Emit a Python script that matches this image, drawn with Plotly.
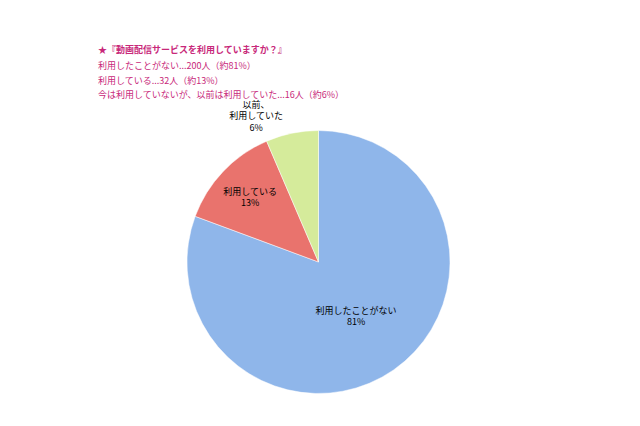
import plotly.graph_objects as go

labels = ["利用したことがない", "利用している", "以前、<br>利用していた"]
values = [200, 32, 16]
percents = ["81%", "13%", "6%"]
colors = ["#8fb6ea", "#e9736d", "#d5eb9b"]
header = ["★『動画配信サービスを利用していますか？』",
          "利用したことがない...200人（約81%）",
          "利用している...32人（約13%）",
          "今は利用していないが、以前は利用していた...16人（約6%）"]

W, H = 640, 426
fig = go.Figure(go.Pie(
    labels=labels, values=values, sort=False, direction="clockwise", rotation=0,
    text=[f"{l}<br>{p}" for l, p in zip(labels, percents)],
    textinfo="text", textposition=["inside", "inside", "outside"],
    insidetextorientation="horizontal",
    marker=dict(colors=colors, line=dict(color="white", width=0.5)),
    textfont=dict(size=9, color="black", family="Noto Sans CJK JP"),
    domain=dict(x=[179/W, 442/W], y=[1-387/H, 1-121/H]),
    showlegend=False, hoverinfo="skip"))

ann = []
ys = [42, 57, 72, 87]
for i, (t, y) in enumerate(zip(header, ys)):
    ann.append(dict(text=f"<b>{t}</b>" if i == 0 else t, x=88/W, y=1-y/H,
                    xref="paper", yref="paper", xanchor="left", yanchor="middle",
                    showarrow=False,
                    font=dict(size=9, color="#c8287a", family="Noto Sans CJK JP")))
fig.update_layout(width=W, height=H, margin=dict(l=0, r=0, t=0, b=0),
                  paper_bgcolor="white", plot_bgcolor="white", annotations=ann)
fig.write_html("out.html")
